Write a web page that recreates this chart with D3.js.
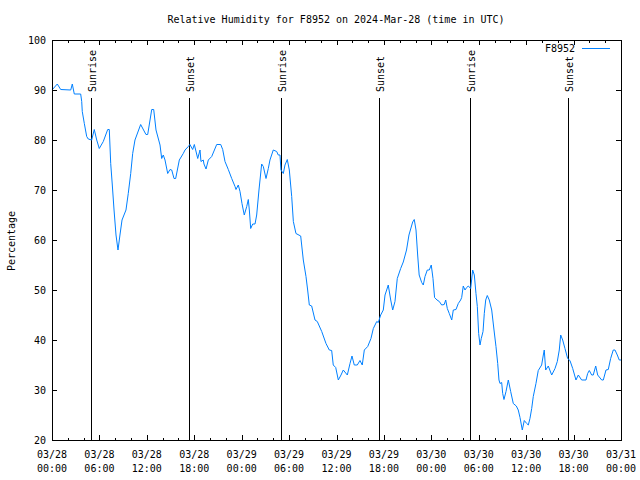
<!DOCTYPE html>
<html><head><meta charset="utf-8">
<script src="https://cdn.jsdelivr.net/npm/d3@7"></script>
<style>body{margin:0;background:#fff}svg{display:block}text{font-family:"DejaVu Sans Mono",monospace;font-size:10px;fill:#000}</style>
</head><body><svg id="c" width="640" height="480"></svg>
<script>
// hours since 2024-03-28 00:00 UTC
const hours = [0,0.67,1.10,2.37,2.57,2.82,3.63,3.76,3.83,4.09,4.39,4.59,5.02,5.35,5.66,5.98,6.49,7.05,7.25,7.43,7.63,7.85,8.10,8.35,8.60,8.86,9.11,9.36,9.65,9.96,10.21,10.50,11.22,11.89,12.11,12.62,12.87,13.16,13.67,13.88,14.08,14.30,14.64,14.93,15.15,15.44,15.65,16.11,16.61,16.83,17.25,17.45,17.80,18.01,18.44,18.73,18.85,19.14,19.23,19.49,19.78,20.21,20.84,21.35,21.60,21.89,22.31,22.74,23.16,23.28,23.57,23.79,24.04,24.33,24.64,24.84,24.97,25.14,25.40,25.69,25.90,26.19,26.53,26.74,27.08,27.37,27.58,28.00,28.43,28.63,28.85,28.97,29.27,29.48,29.77,30.03,30.33,30.54,30.87,31.47,31.80,32.14,32.35,32.56,32.86,33.28,33.57,34.13,34.67,35.09,35.39,35.59,35.90,36.23,36.57,36.86,37.37,37.71,37.96,38.25,38.63,38.97,39.26,39.52,39.95,40.36,40.66,41.09,41.29,41.59,41.92,42.14,42.35,42.55,42.86,43.11,43.40,43.69,44.12,44.45,44.86,45.17,45.64,45.84,46.06,46.27,46.46,46.78,46.98,47.20,47.49,47.74,47.99,48.21,48.41,48.72,49.01,49.31,49.63,49.82,50.02,50.27,50.58,50.78,51.12,51.41,51.71,51.84,52.04,52.26,52.47,52.68,52.98,53.23,53.44,53.65,53.82,53.99,54.16,54.32,54.54,54.70,54.88,55.08,55.33,55.64,55.93,56.18,56.40,56.56,56.69,56.90,57.03,57.19,57.45,57.74,58.04,58.37,58.75,59.00,59.22,59.51,59.76,60.07,60.27,60.48,60.70,60.90,61.24,61.53,61.96,62.17,62.29,62.47,62.80,63.23,63.65,63.94,64.19,64.37,64.62,64.91,65.25,65.54,65.89,66.30,66.60,67.02,67.57,67.78,67.99,68.29,68.49,68.80,69.05,69.56,69.76,70.10,70.39,70.69,71.02,71.24,71.53,71.78,72];
const humidity = [90,91.2,90.1,90,91.2,89.2,89.2,87.7,85.7,83.3,80.7,80.2,80,82.1,80,78.3,79.7,82.1,82.1,75.3,71,66,61,58,61,64,65,66,69.3,73.3,77.3,80,83.1,81.1,81.1,86.1,86.1,82,79,76.3,77,76,73.3,74.1,74,72.3,72.3,76,77.3,78,78.7,79.1,78.1,79.1,76.3,78,75.7,76,75.2,74.2,76,76.7,79.1,79.1,78.1,75.7,74.1,72.3,70.7,70.1,71,69.7,67.3,65,66.7,68.1,66,62.3,63.2,63.2,65,70,75.2,74.7,72.3,74.3,76,78,77.7,77,77,74,73.3,75,76.1,74,68.7,63.7,61.3,60.8,56,52.7,50,47,46.8,44,43.7,41.7,39.3,38,37.9,35,34.5,32,33,34,33,35.3,36.8,35,35,35.9,35,38,38.7,40.3,42.3,43.7,43.5,45,46,49,50,51,48,46,47.7,52.3,54.3,55.6,58,61,63.6,64.1,62,57,53,51.5,51,52.7,54,54,55,52.3,48.5,48,47.7,47,47.1,48,46.3,45.3,44,46,46.1,47.3,48,48.5,50.8,50,50.5,50.8,50.3,54,53,49.3,46.7,41.3,39,40.3,41.7,45.3,48,48.9,48,46,42,38.7,35.3,32,31.3,31.5,29.3,28.1,29.7,32,29.7,27.3,26.8,26,24.5,22,23.9,23.3,23,24.3,26.3,28.7,31.3,33.9,35,37,38,34,34.8,33,34.3,35.7,38,41,40,38.3,36.3,35.9,34.3,32,33,32,32,33.3,33.9,33,33,34.8,33,32,32,34,34.1,36.3,38,38,37,36,36];
const sunEvents = [["Sunrise","2024-03-28T04:57Z"],["Sunset","2024-03-28T17:20Z"],["Sunrise","2024-03-29T04:57Z"],["Sunset","2024-03-29T17:20Z"],["Sunrise","2024-03-30T04:57Z"],["Sunset","2024-03-30T17:20Z"]];
const yTicks = [20,30,40,50,60,70,80,90,100];
const title = "Relative Humidity for F8952 on 2024-Mar-28 (time in UTC)";
const yLabel = "Percentage";
const seriesName = "F8952";

const base = Date.UTC(2024,2,28,0,0);
const data = hours.map((h,i)=>({t:new Date(base+h*3600e3), v:humidity[i]}));
const L=52,R=621,T=40,B=440;
const svg=d3.select("#c");
const x=d3.scaleUtc().domain([new Date(base),new Date(base+72*3600e3)]).range([L,R]);
const y=d3.scaleLinear().domain([20,100]).range([B,T]);
const blue="#0080ff";

svg.append("text").attr("x",336).attr("y",23).attr("text-anchor","middle").text(title);

const major=d3.utcHour.every(6).range(x.domain()[0],new Date(base+72*3600e3+1));
const minor=d3.utcHour.every(2).range(x.domain()[0],new Date(base+72*3600e3+1));
const g=svg.append("g").attr("shape-rendering","crispEdges").attr("stroke","#000");
minor.forEach(d=>{const px=Math.round(x(d))+0.5;
  g.append("line").attr("x1",px).attr("x2",px).attr("y1",B).attr("y2",B-2.5);
  g.append("line").attr("x1",px).attr("x2",px).attr("y1",T).attr("y2",T+2.5);});
major.forEach(d=>{const px=Math.round(x(d))+0.5;
  g.append("line").attr("x1",px).attr("x2",px).attr("y1",B).attr("y2",B-5);
  g.append("line").attr("x1",px).attr("x2",px).attr("y1",T).attr("y2",T+5);});
yTicks.forEach(v=>{const py=Math.round(y(v))+0.5;
  g.append("line").attr("x1",L).attr("x2",L+5).attr("y1",py).attr("y2",py);
  g.append("line").attr("x1",R).attr("x2",R-5).attr("y1",py).attr("y2",py);});

const fmtD=d3.utcFormat("%m/%d"), fmtT=d3.utcFormat("%H:%M");
major.forEach(d=>{
  const t=svg.append("text").attr("text-anchor","middle").attr("x",x(d));
  t.append("tspan").attr("x",x(d)).attr("y",458).text(fmtD(d));
  t.append("tspan").attr("x",x(d)).attr("y",472).text(fmtT(d));
});
yTicks.forEach(v=>svg.append("text").attr("x",46).attr("y",y(v)+4).attr("text-anchor","end").text(v));
svg.append("text").attr("transform","translate(15,241) rotate(-90)").attr("text-anchor","middle").text(yLabel);

// sunrise / sunset
sunEvents.forEach(([lab,ts])=>{
  const px=Math.round(x(new Date(ts)))+0.5;
  svg.append("line").attr("x1",px).attr("x2",px).attr("y1",98).attr("y2",B).attr("stroke","#000").attr("shape-rendering","crispEdges");
  svg.append("text").attr("transform",`translate(${px+4.5},92) rotate(-90)`).attr("text-anchor","start").text(lab);
});

svg.append("path").datum(data).attr("fill","none").attr("stroke",blue).attr("stroke-width",1)
  .attr("d",d3.line().x(d=>x(d.t)).y(d=>y(d.v)));

// frame
svg.append("rect").attr("x",L+0.5).attr("y",T+0.5).attr("width",R-L).attr("height",B-T)
  .attr("fill","none").attr("stroke","#000").attr("shape-rendering","crispEdges");

// legend
svg.append("text").attr("x",575).attr("y",52).attr("text-anchor","end").text(seriesName);
svg.append("line").attr("x1",582).attr("x2",610).attr("y1",48.5).attr("y2",48.5).attr("stroke",blue).attr("shape-rendering","crispEdges");
</script></body></html>
